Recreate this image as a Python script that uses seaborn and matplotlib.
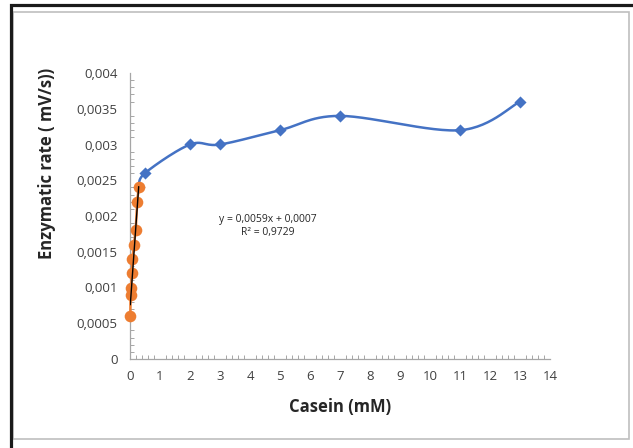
import numpy as np
import pandas as pd
import matplotlib
matplotlib.use("Agg")
import matplotlib.pyplot as plt
import seaborn as sns
from matplotlib.patches import Rectangle
from matplotlib.ticker import MultipleLocator, FuncFormatter

# ---- data ----
blue_x = [0.3, 0.5, 2, 3, 5, 7, 11, 13]
blue_y = [0.0024, 0.0026, 0.003, 0.003, 0.0032, 0.0034, 0.0032, 0.0036]
orange_x = [0.01, 0.02, 0.04, 0.06, 0.08, 0.13, 0.19, 0.24, 0.29]
orange_y = [0.0006, 0.0009, 0.001, 0.0012, 0.0014, 0.0016, 0.0018, 0.0022, 0.0024]
trend_slope = 0.0059
trend_intercept = 0.0007
trend_text = "y = 0,0059x + 0,0007\nR² = 0,9729"
x_label = "Casein (mM)"
y_label = "Enzymatic rate ( mV/s))"

sns.set_theme(style="white")
plt.rcParams['font.family'] = ['Open Sans', 'DejaVu Sans']

BLUE = "#4472C4"
ORANGE = "#ED7D31"
GRAY = "#A6A6A6"

fig = plt.figure(figsize=(6.33, 4.48), dpi=100)
W, H = 633, 448
ax = fig.add_axes([130 / W, 1 - 359 / H, 420 / W, 286 / H])

# smooth curve (Catmull-Rom) for the blue series, like Excel's smoothed line
def smooth(xs, ys, n=30):
    xs = np.asarray(xs, float); ys = np.asarray(ys, float)
    P = np.column_stack([xs, ys])
    P = np.vstack([P[0], P, P[-1]])
    out = []
    for i in range(1, len(P) - 2):
        p0, p1, p2, p3 = P[i - 1], P[i], P[i + 1], P[i + 2]
        t = np.linspace(0, 1, n)[:, None]
        seg = 0.5 * ((2 * p1) + (-p0 + p2) * t + (2 * p0 - 5 * p1 + 4 * p2 - p3) * t ** 2
                     + (-p0 + 3 * p1 - 3 * p2 + p3) * t ** 3)
        out.append(seg)
    out = np.vstack(out)
    return out[:, 0], out[:, 1]

sx, sy = smooth(blue_x, blue_y)
ax.plot(sx, sy, color=BLUE, lw=1.8, zorder=2)
sns.scatterplot(x=blue_x, y=blue_y, ax=ax, color=BLUE, marker="D", s=38,
                edgecolor=BLUE, linewidth=0, zorder=3, clip_on=False)

ax.plot(orange_x, orange_y, color=ORANGE, lw=1.8, zorder=4, clip_on=False)
sns.scatterplot(x=orange_x, y=orange_y, ax=ax, color=ORANGE, marker="o", s=70,
                edgecolor=ORANGE, linewidth=0, zorder=5, clip_on=False)
tx = np.array([min(orange_x), max(orange_x)])
ax.plot(tx, trend_slope * tx + trend_intercept, color="black", lw=1.0, zorder=6)

ax.text(4.6, 0.00186, trend_text, ha="center", va="center", fontsize=7.5,
        color="#262626", linespacing=1.35)

ax.set_xlim(0, 14)
ax.set_ylim(0, 0.004)
ax.xaxis.set_major_locator(MultipleLocator(1))
ax.xaxis.set_minor_locator(MultipleLocator(0.2))
ax.yaxis.set_major_locator(MultipleLocator(0.0005))
ax.yaxis.set_minor_locator(MultipleLocator(0.0001))
fmt = FuncFormatter(lambda v, p: ("%g" % round(v, 6)).replace(".", ","))
ax.xaxis.set_major_formatter(fmt)
ax.yaxis.set_major_formatter(fmt)

for s in ["top", "right"]:
    ax.spines[s].set_visible(False)
for s in ["left", "bottom"]:
    ax.spines[s].set_color(GRAY)
    ax.spines[s].set_linewidth(0.9)

ax.tick_params(axis="both", which="major", length=4, width=0.8, color=GRAY,
               labelsize=9.5, labelcolor="#404040", direction="out", pad=5)
ax.tick_params(axis="x", which="major", direction="inout", length=6)
ax.tick_params(axis="both", which="minor", length=3, width=0.7, color=GRAY,
               direction="in", bottom=True, left=True)
ax.grid(False)
ax.set_facecolor("white")

ax.set_xlabel(x_label, fontsize=12, fontweight="bold", color="#262626")
ax.set_ylabel(y_label, fontsize=12, fontweight="bold", color="#262626")
ax.xaxis.set_label_coords(0.5, -0.168)
ax.yaxis.set_label_coords(-0.198, 0.685)
ax.xaxis.label.set_va("center")
ax.yaxis.label.set_va("center")

# chart frame decorations
fig.patches.append(Rectangle((12.5 / W, 1 - 438.5 / H), (629 - 12.5) / W, (438.5 - 12) / H,
                             transform=fig.transFigure, fill=False,
                             edgecolor="#BFBFBF", linewidth=1.2, zorder=0))
fig.patches.append(Rectangle((10.5 / W, -0.1), 1.2, 1.1 - 5.5 / H + 0.0,
                             transform=fig.transFigure, fill=False,
                             edgecolor="#1a1a1a", linewidth=2.3, zorder=1))

fig.savefig("out.png", dpi=100, facecolor="white")
